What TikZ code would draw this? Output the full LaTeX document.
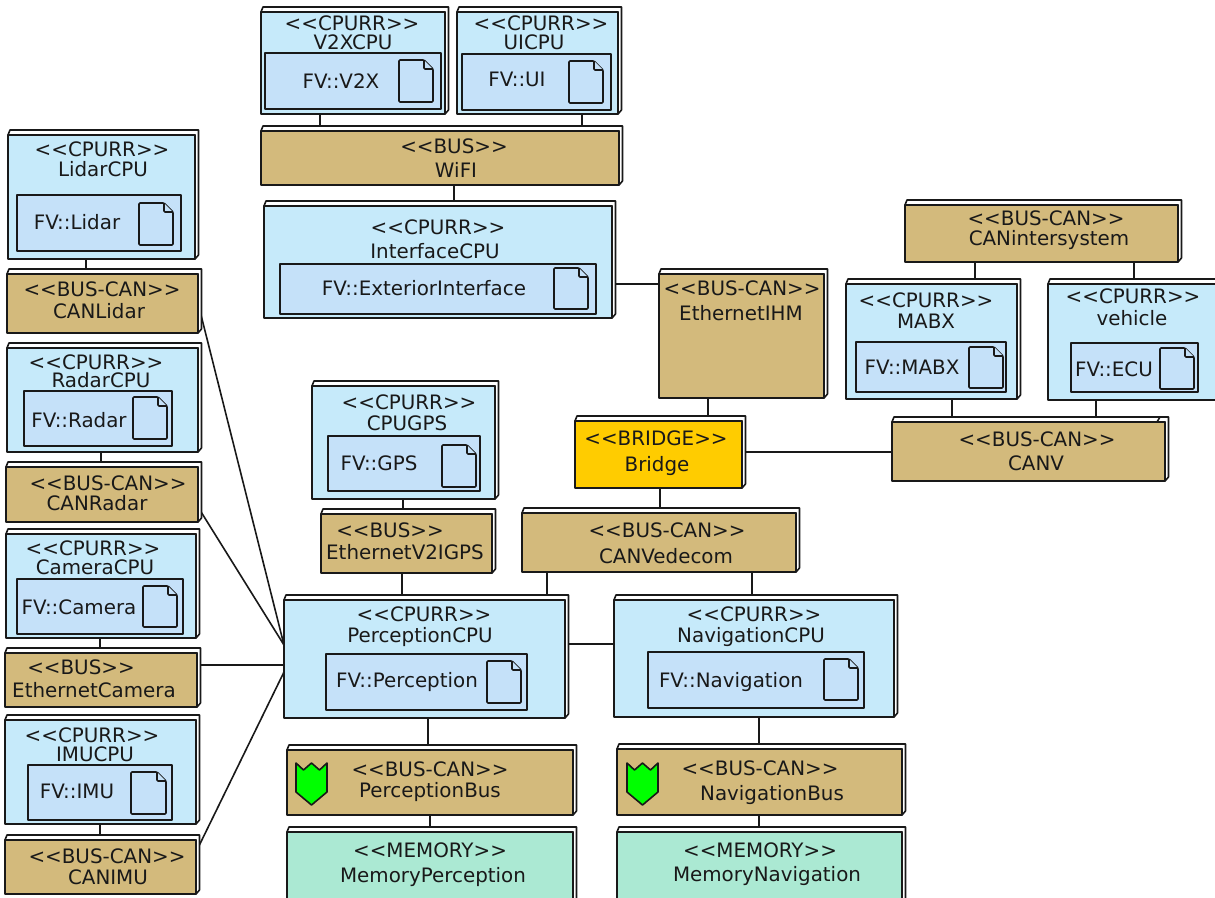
\documentclass[tikz,border=0pt]{standalone}
\usepackage{fontspec}
\setmainfont[Ligatures=TeXOff]{DejaVu Sans}
\usetikzlibrary{backgrounds}

\definecolor{cpuColor}{HTML}{C6EAFA}
\definecolor{artifactColor}{HTML}{C5E1F9}
\definecolor{busColor}{HTML}{D3BA7C}
\definecolor{memoryColor}{HTML}{ABE9D3}
\definecolor{bridgeColor}{HTML}{FFCC00}

\tikzset{
  unitLine/.style={draw=black!90, line width=1.2pt, line join=round},
  unitCpu/.style={unitLine, fill=cpuColor, inner sep=0pt, outer sep=0pt},
  unitBus/.style={unitLine, fill=busColor, inner sep=0pt, outer sep=0pt},
  unitMemory/.style={unitLine, fill=memoryColor, inner sep=0pt, outer sep=0pt},
  unitBridge/.style={unitLine, fill=bridgeColor, inner sep=0pt, outer sep=0pt},
  unitFace/.style={unitLine, fill=white},
  artifactBox/.style={unitLine, fill=artifactColor, inner sep=0pt, outer sep=0pt},
  docPage/.style={unitLine, fill=artifactColor, rounded corners=0.8pt},
  unitText/.style={inner sep=0pt, font=\fontsize{14.9pt}{16pt}\selectfont, text=black!90},
  wire/.style={draw=black!90, line width=1.2pt},
}

% one unit: front face as a node, top and side faces behind it
\newcommand{\unitNode}[6]{
  \draw[unitFace] (#3,#4) -- ++(2,-5) -- (#5+3.5,#4-5) -- (#5+3.5,#6-4) -- (#5,#6) -- (#5,#4) -- cycle;
  \node[#2, anchor=north west, minimum width={(#5-#3)*0.75pt}, minimum height={(#6-#4)*0.75pt}] (#1) at (#3,#4) {};
}

\begin{document}
\begin{tikzpicture}[x=0.75pt, y=-0.75pt]
  \useasboundingbox (0,0) rectangle (1215,897);
  \clip (0,0) rectangle (1215,897);

  % processors
  \foreach \name/\xa/\ya/\xb/\yb in {
    v2xCpu/261/12/445/114, uiCpu/457/12/618/114, interfaceCpu/264/206/612/318,
    lidarCpu/8/135/195/259, radarCpu/7/348/198/452, cameraCpu/6/534/196/638,
    imuCpu/5/720/196/824, gpsCpu/312/386/495/499, perceptionCpu/284/600/565/718,
    navigationCpu/614/600/894/717, mabxCpu/846/284/1017/399, vehicleCpu/1048/284/1235/400} {
    \unitNode{\name}{unitCpu}{\xa}{\ya}{\xb}{\yb}
  }

  % buses
  \foreach \name/\xa/\ya/\xb/\yb in {
    wifiBus/261/131/619/185, canLidar/7/274/198/333, canRadar/6/467/198/522,
    ethernetCamera/5/653/197/707, canImu/5/840/196/894, ethernetGps/321/514/492/573,
    perceptionBus/287/750/573/815, navigationBus/617/749/902/815, canVedecom/522/513/796/572,
    ethernetIhm/659/274/824/398, canV/892/422/1165/481, canIntersystem/905/205/1178/262} {
    \unitNode{\name}{unitBus}{\xa}{\ya}{\xb}{\yb}
  }

  \unitNode{bridgeUnit}{unitBridge}{575}{421}{742}{488}
  \unitNode{memoryPerception}{unitMemory}{287}{832}{573}{915}
  \unitNode{memoryNavigation}{unitMemory}{617}{832}{902}{915}
  \draw[unitLine] (1157,422) -- (1160,417);

  % software inside the processors
  \foreach \name/\xa/\ya/\xb/\yb in {
    v2xSoft/265/53/441/109, uiSoft/462/54/611/110, interfaceSoft/280/264/596/314,
    lidarSoft/17/195/181/251, radarSoft/24/391/172/446, cameraSoft/17/579/183/634,
    imuSoft/28/765/172/820, gpsSoft/328/436/480/491, perceptionSoft/326/654/527/710,
    navigationSoft/648/652/864/708, mabxSoft/856/342/1006/392, ecuSoft/1071/343/1198/392}
    \node[artifactBox, anchor=north west, minimum width={(\xb-\xa)*0.75pt}, minimum height={(\yb-\ya)*0.75pt}] (\name) at (\xa,\ya) {};

  % document icons
  \foreach \xa/\ya/\xb/\yb in {
    399/60/433/102, 569/61/603/103, 554/268/588/309, 139/203/173/245,
    133/397/167/439, 143/586/177/627, 131/772/166/814, 442/445/476/487,
    487/661/521/703, 824/659/858/700, 969/347/1003/388, 1160/348/1194/389} {
    \draw[docPage] (\xa,\ya) -- (\xb-9,\ya) -- (\xb,\ya+9) -- (\xb,\yb) -- (\xa,\yb) -- cycle;
    \draw[docPage] (\xb-9,\ya) -- (\xb-9,\ya+9) -- (\xb,\ya+9);
  }

  % shields
  \foreach \xs/\ys in {296/763, 627/763}
    \draw[unitLine, fill=green] (\xs,\ys) -- ++(7.5,7) -- ++(8,-7) -- ++(8,7) -- ++(7.5,-7)
      -- ++(0,29) -- ++(-15.5,13) -- ++(-15.5,-13) -- cycle;

  % labels
  \foreach \name/\cx/\cy/\txt in {
    v2xA/352/23/<<CPURR>>, v2xB/353/42/V2XCPU, v2xC/341/81/FV::V2X,
    uiA/541/23/<<CPURR>>, uiB/534/42/UICPU, uiC/517/79/FV::UI,
    wifiA/454/146/<<BUS>>, wifiB/456/170/WiFI,
    interfaceA/438/227/<<CPURR>>, interfaceB/435/251/InterfaceCPU, interfaceC/424/288/FV::ExteriorInterface,
    lidarA/102/149/<<CPURR>>, lidarB/103/169/LidarCPU, lidarC/77/222/FV::Lidar,
    canLidarA/102/289/<<BUS-CAN>>, canLidarB/99/311/CANLidar,
    radarA/96/362/<<CPURR>>, radarB/101/380/RadarCPU, radarC/79/420/FV::Radar,
    canRadarA/108/483/<<BUS-CAN>>, canRadarB/97/503/CANRadar,
    cameraA/93/548/<<CPURR>>, cameraB/95/567/CameraCPU, cameraC/79/607/FV::Camera,
    ethCamA/81/667/<<BUS>>, ethCamB/94/690/EthernetCamera,
    imuA/92/735/<<CPURR>>, imuB/95/754/IMUCPU, imuC/77/791/FV::IMU,
    canImuA/107/856/<<BUS-CAN>>, canImuB/108/877/CANIMU,
    gpsA/409/402/<<CPURR>>, gpsB/407/423/CPUGPS, gpsC/379/463/FV::GPS,
    ethGpsA/390/530/<<BUS>>, ethGpsB/405/552/EthernetV2IGPS,
    perceptionA/424/614/<<CPURR>>, perceptionB/420/637/PerceptionCPU, perceptionC/407/682/FV::Perception,
    navigationA/754/614/<<CPURR>>, navigationB/751/637/NavigationCPU, navigationC/731/682/FV::Navigation,
    percBusA/430/769/<<BUS-CAN>>, percBusB/430/792/PerceptionBus,
    navBusA/760/768/<<BUS-CAN>>, navBusB/772/795/NavigationBus,
    memPercA/430/850/<<MEMORY>>, memPercB/433/877/MemoryPerception,
    memNavA/760/850/<<MEMORY>>, memNavB/767/876/MemoryNavigation,
    vedecomA/667/530/<<BUS-CAN>>, vedecomB/666/556/CANVedecom,
    bridgeA/656/438/<<BRIDGE>>, bridgeB/657/466/Bridge,
    ihmA/742/288/<<BUS-CAN>>, ihmB/741/313/EthernetIHM,
    canVA/1037/439/<<BUS-CAN>>, canVB/1036/463/CANV,
    interA/1046/218/<<BUS-CAN>>, interB/1049/240/CANintersystem,
    mabxA/926/300/<<CPURR>>, mabxB/926/321/MABX, mabxC/912/367/FV::MABX,
    vehicleA/1133/296/<<CPURR>>, vehicleB/1132/318/vehicle, vehicleC/1114/369/FV::ECU}
    \node[unitText] (\name) at (\cx,\cy) {\txt};

  \begin{scope}[on background layer]
    % vertical links
    \foreach \up/\down/\xp in {
      v2xCpu/wifiBus/320, uiCpu/wifiBus/582, wifiBus/interfaceCpu/454,
      lidarCpu/canLidar/86, radarCpu/canRadar/101, cameraCpu/ethernetCamera/100, imuCpu/canImu/100,
      gpsCpu/ethernetGps/403, ethernetGps/perceptionCpu/402,
      canVedecom/perceptionCpu/547, canVedecom/navigationCpu/752,
      perceptionCpu/perceptionBus/428, perceptionBus/memoryPerception/430,
      navigationCpu/navigationBus/759, navigationBus/memoryNavigation/759,
      ethernetIhm/bridgeUnit/708, bridgeUnit/canVedecom/660,
      canIntersystem/mabxCpu/975, canIntersystem/vehicleCpu/1134,
      mabxCpu/canV/952, vehicleCpu/canV/1096}
      \draw[wire] (\up.south -| \xp,0) -- (\down.north -| \xp,0);
    % horizontal links
    \foreach \lft/\rgt/\yp in {
      interfaceCpu/ethernetIhm/284, bridgeUnit/canV/452, perceptionCpu/navigationCpu/644,
      ethernetCamera/perceptionCpu/665}
      \draw[wire] (\lft.east |- 0,\yp) -- (\rgt.west |- 0,\yp);
    % slanted links
    \draw[wire] (canLidar.east |- 0,303) -- (perceptionCpu.west |- 0,645);
    \draw[wire] (canRadar.east |- 0,507) -- (perceptionCpu.west |- 0,645);
    \draw[wire] (canImu.east |- 0,852) -- (perceptionCpu.west |- 0,672);
  \end{scope}
\end{tikzpicture}
\end{document}
